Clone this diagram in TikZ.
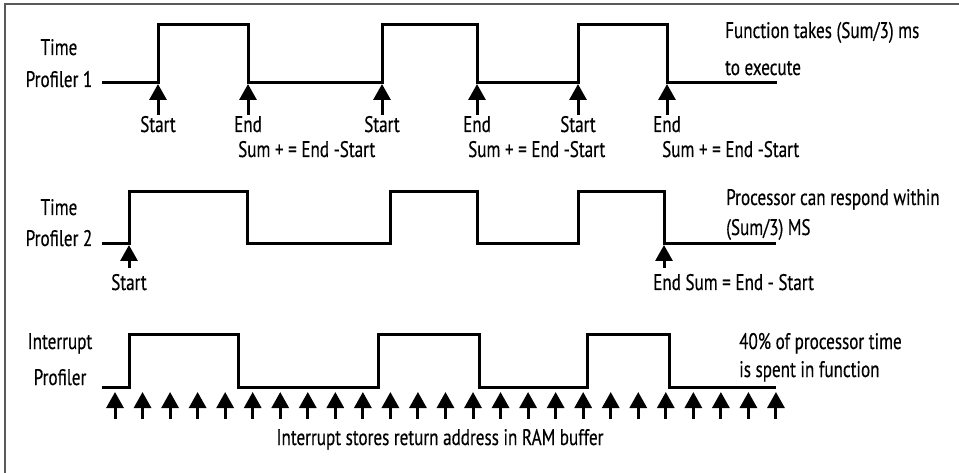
\documentclass[tikz,border=0pt]{standalone}
\usepackage{fontspec}
\setmainfont{PT Sans}[FakeStretch=0.76,FakeBold=0.4]
\usetikzlibrary{arrows.meta}
\tikzset{
  wave/.style={line width=3pt, line join=miter, line cap=butt},
  uparrow/.style={line width=3pt, -{Triangle[width=17pt,length=16pt]}},
  lbl/.style={inner sep=0pt, font=\fontsize{22.5}{26}\selectfont, anchor=base},
  lblw/.style={lbl, anchor=base west},
  frameline/.style={line width=1.5pt, draw=black!65}
}
\begin{document}
\begin{tikzpicture}[x=1pt,y=-1pt]
\useasboundingbox (0,0) rectangle (959,473);
\fill[white] (0,0) rectangle (959,473);
% frame
\coordinate (fl) at (5,473);
\coordinate (fc) at (5,4);
\coordinate (fr) at (959,4);
\draw[frameline] (fl) -- (fc) -- (fr);

% ---------- Time Profiler 1 ----------
\node[lbl] (t1a) at (59,55) {Time};
\node[lbl] (t1b) at (59,87) {Profiler 1};
\draw[wave] (102,83) -- (158,83) -- (158,25) -- (248,25) -- (248,83) -- (382,83) -- (382,25) -- (477,25) -- (477,83) -- (578,83) -- (578,25) -- (667,25) -- (667,83) -- (777,83);
\foreach \x/\t [count=\i] in {158/Start,248/End,382/Start,477/End,578/Start,667/End}{
  \coordinate (a1t\i) at (\x,84);
  \coordinate (a1b\i) at (\x,115);
  \draw[uparrow] (a1b\i) -- (a1t\i);
  \node[lbl] (l1\i) at (\x,132) {\t};
}
\node[lblw] (s1a) at (238,157) {Sum + = End -Start};
\node[lblw] (s1b) at (468,157) {Sum + = End -Start};
\node[lblw] (s1c) at (662,157) {Sum + = End -Start};
\node[lblw] (n1a) at (725,38) {Function takes (Sum/3) ms};
\node[lblw] (n1b) at (725,75) {to execute};

% ---------- Time Profiler 2 ----------
\node[lbl] (t2a) at (59,215) {Time};
\node[lbl] (t2b) at (59,246) {Profiler 2};
\draw[wave] (102,244) -- (129,244) -- (129,192) -- (247,192) -- (247,244) -- (390,244) -- (390,192) -- (477,192) -- (477,244) -- (578,244) -- (578,192) -- (664,192) -- (664,244) -- (776,244);
\coordinate (a2t1) at (129,245);
\coordinate (a2b1) at (129,268);
\coordinate (a2t2) at (664,245);
\coordinate (a2b2) at (664,268);
\draw[uparrow] (a2b1) -- (a2t1);
\draw[uparrow] (a2b2) -- (a2t2);
\node[lbl] (l21) at (129,290) {Start};
\node[lblw] (l22) at (653,290) {End Sum = End - Start};
\node[lblw] (n2a) at (726,205) {Processor can respond within};
\node[lblw] (n2b) at (726,235) {(Sum/3) MS};

% ---------- Interrupt Profiler ----------
\node[lbl] (t3a) at (60,349) {Interrupt};
\node[lbl] (t3b) at (60,385) {Profiler};
\draw[wave] (102,387) -- (129,387) -- (129,334) -- (238,334) -- (238,387) -- (378,387) -- (378,334) -- (479,334) -- (479,387) -- (587,387) -- (587,334) -- (669,334) -- (669,387) -- (776,387);
\foreach \i in {0,...,24}{
  \coordinate (a3t\i) at ({115+\i*27.54},392);
  \coordinate (a3b\i) at ({115+\i*27.54},419);
  \draw[uparrow] (a3b\i) -- (a3t\i);
}
\node[lbl] (n3c) at (440,445) {Interrupt stores return address in RAM buffer};
\node[lblw] (n3a) at (739,349) {40\% of processor time};
\node[lblw] (n3b) at (739,377) {is spent in function};
\end{tikzpicture}
\end{document}
